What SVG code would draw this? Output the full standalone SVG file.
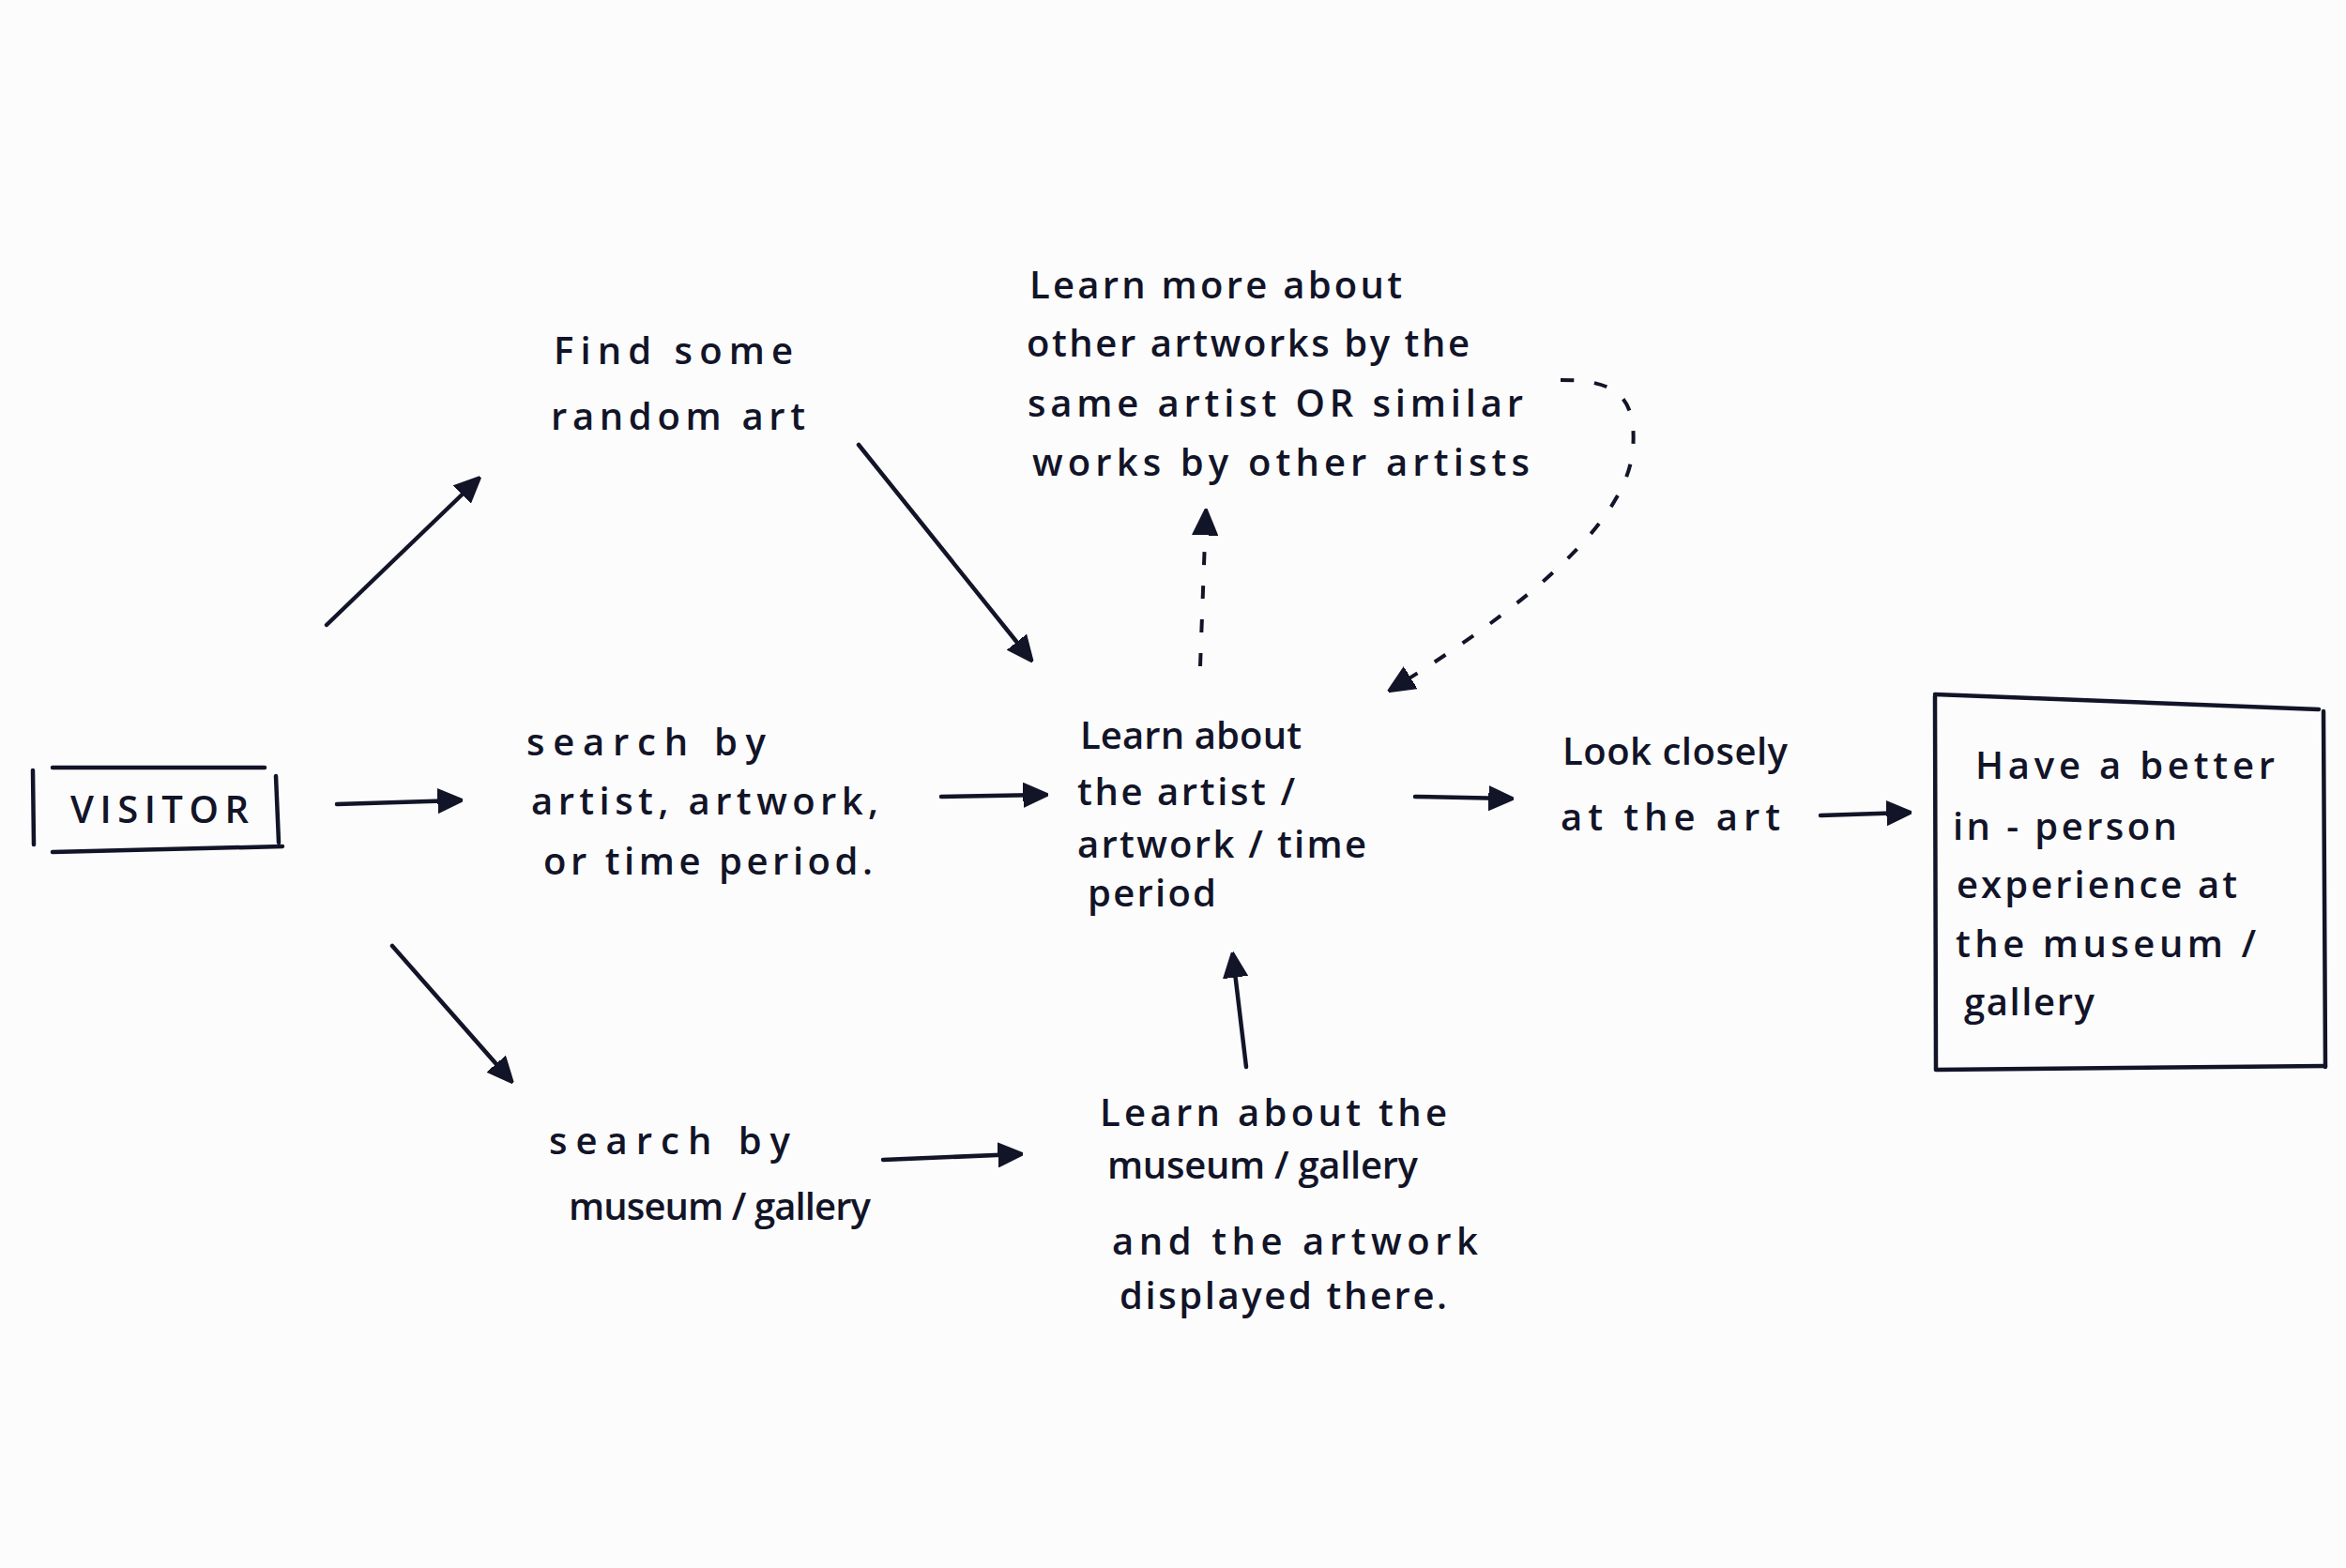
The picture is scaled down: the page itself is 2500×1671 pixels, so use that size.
<svg xmlns="http://www.w3.org/2000/svg" width="2500" height="1671" viewBox="0 0 2500 1671">
<defs>
<marker id="ah" viewBox="0 0 10 10" refX="8" refY="5" markerWidth="6" markerHeight="6" markerUnits="strokeWidth" orient="auto">
<path d="M0,0.5 L10,5 L0,9.5 Z" fill="#121428" stroke="#121428" stroke-width="1" stroke-linejoin="round"/>
</marker>
<marker id="ahb" viewBox="0 0 10 10" refX="8" refY="5" markerWidth="7" markerHeight="7" markerUnits="strokeWidth" orient="auto">
<path d="M0,0.5 L10,5 L0,9.5 Z" fill="#121428" stroke="#121428" stroke-width="1" stroke-linejoin="round"/>
</marker>
</defs>
<style>
text{font-family:"Open Sans","Liberation Sans",sans-serif;font-size:40px;font-weight:600;fill:#121428;}
.ln{stroke:#121428;stroke-width:4.5;fill:none;stroke-linecap:round;}
.ar{stroke:#121428;stroke-width:4.5;fill:none;stroke-linecap:round;marker-end:url(#ah);}
.da{stroke:#121428;stroke-width:4;fill:none;stroke-dasharray:14 22;marker-end:url(#ahb);}
</style>
<rect width="2500" height="1671" fill="#fcfcfc"/>

<g id="connectors">
<line class="ar" x1="359" y1="857" x2="488" y2="853"/>
<line class="ar" x1="348" y1="666" x2="508" y2="512"/>
<line class="ar" x1="418" y1="1008" x2="543" y2="1150"/>
<line class="ar" x1="915" y1="474" x2="1097" y2="701"/>
<line class="ar" x1="1003" y1="849" x2="1112" y2="847"/>
<line class="ar" x1="1508" y1="849" x2="1608" y2="851"/>
<line class="ar" x1="1940" y1="869" x2="2032" y2="866"/>
<line class="ar" x1="941" y1="1236" x2="1085" y2="1230"/>
<line class="ar" x1="1328" y1="1137" x2="1314" y2="1020"/>
<line class="da" x1="1279" y1="710" x2="1285" y2="548"/>
<path class="da" d="M1663,405 C1720,405 1745,420 1740,480 C1732,560 1620,650 1484,734"/>
</g>

<g id="visitor">
<line class="ln" x1="35" y1="821" x2="36" y2="900"/>
<line class="ln" x1="56" y1="818" x2="282" y2="818"/>
<line class="ln" x1="294" y1="827" x2="297" y2="898"/>
<line class="ln" x1="56" y1="908" x2="301" y2="902"/>
<text x="75" y="877" textLength="190" lengthAdjust="spacing">VISITOR</text>
</g>

<g id="find-random">
<text x="590" y="388" textLength="255" lengthAdjust="spacing">Find some</text>
<text x="587" y="458" textLength="271" lengthAdjust="spacing">random art</text>
</g>

<g id="learn-more">
<text x="1097" y="318" textLength="397" lengthAdjust="spacing">Learn more about</text>
<text x="1094" y="380" textLength="472" lengthAdjust="spacing">other artworks by the</text>
<text x="1095" y="444" textLength="528" lengthAdjust="spacing">same artist OR similar</text>
<text x="1100" y="507" textLength="530" lengthAdjust="spacing">works by other artists</text>
</g>

<g id="search-artist">
<text x="561" y="805" textLength="255" lengthAdjust="spacing">search by</text>
<text x="566" y="868" textLength="370" lengthAdjust="spacing">artist, artwork,</text>
<text x="579" y="932" textLength="351" lengthAdjust="spacing">or time period.</text>
</g>

<g id="learn-artist">
<text x="1151" y="798" textLength="236" lengthAdjust="spacing">Learn about</text>
<text x="1148" y="858" textLength="232" lengthAdjust="spacing">the artist /</text>
<text x="1148" y="914" textLength="308" lengthAdjust="spacing">artwork / time</text>
<text x="1159" y="966" textLength="137" lengthAdjust="spacing">period</text>
</g>

<g id="look-closely">
<text x="1665" y="815" textLength="240" lengthAdjust="spacing">Look closely</text>
<text x="1663" y="885" textLength="234" lengthAdjust="spacing">at the art</text>
</g>

<g id="better-experience">
<line class="ln" x1="2062" y1="742" x2="2063" y2="1140"/>
<line class="ln" x1="2062" y1="740" x2="2471" y2="756"/>
<line class="ln" x1="2476" y1="758" x2="2478" y2="1137"/>
<line class="ln" x1="2064" y1="1140" x2="2478" y2="1136"/>
<text x="2105" y="830" textLength="319" lengthAdjust="spacing">Have a better</text>
<text x="2081" y="895" textLength="239" lengthAdjust="spacing">in - person</text>
<text x="2085" y="957" textLength="299" lengthAdjust="spacing">experience at</text>
<text x="2084" y="1020" textLength="320" lengthAdjust="spacing">the museum /</text>
<text x="2093" y="1082" textLength="139" lengthAdjust="spacing">gallery</text>
</g>

<g id="search-museum">
<text x="585" y="1230" textLength="257" lengthAdjust="spacing">search by</text>
<text x="606" y="1300" textLength="322" lengthAdjust="spacing">museum / gallery</text>
</g>

<g id="learn-museum">
<text x="1172" y="1200" textLength="370" lengthAdjust="spacing">Learn about the</text>
<text x="1180" y="1256" textLength="331" lengthAdjust="spacing">museum / gallery</text>
<text x="1185" y="1337" textLength="390" lengthAdjust="spacing">and the artwork</text>
<text x="1193" y="1395" textLength="349" lengthAdjust="spacing">displayed there.</text>
</g>
</svg>
